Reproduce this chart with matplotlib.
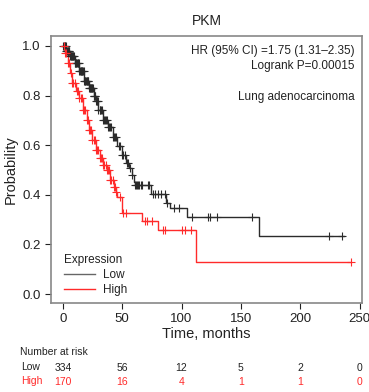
import numpy as np
import matplotlib
matplotlib.use("Agg")
import matplotlib.pyplot as plt

plt.rcParams["font.family"] = ["Liberation Sans", "DejaVu Sans"]

# survival curve knots (time in months, probability)
low_t = [0, 3, 6, 10, 14, 18, 22, 26, 28, 30, 34, 38, 42, 46, 50, 53, 56, 58, 60, 61, 74, 87, 90, 105, 165, 237]
low_p = [1.0, 0.98, 0.96, 0.93, 0.90, 0.86, 0.83, 0.80, 0.78, 0.74, 0.70, 0.675, 0.635, 0.595, 0.56, 0.53,
         0.51, 0.48, 0.45, 0.44, 0.403, 0.367, 0.347, 0.31, 0.234, 0.234]
high_t = [0, 2, 4, 6, 8, 11, 14, 17, 20, 22, 25, 28, 31, 34, 37, 40, 43, 45, 46, 50, 67, 80, 112.5, 243]
high_p = [1.0, 0.97, 0.93, 0.89, 0.85, 0.82, 0.79, 0.74, 0.70, 0.66, 0.62, 0.58, 0.55, 0.52, 0.50, 0.46,
          0.43, 0.41, 0.39, 0.327, 0.294, 0.258, 0.129, 0.129]

# censored observations
low_cens = [0.5, 1, 1.5, 2, 2.5, 3, 3.5, 4, 4.5, 5, 5.5, 6, 6.5, 7, 7.5, 8, 8.5, 9, 9.5, 10, 10.5, 11, 11.5,
            12, 12.5, 13, 13.5, 14, 14.5, 15, 15.5, 16, 16.5, 17, 17.5, 18, 18.5, 19, 19.5, 20, 20.5, 21, 21.5,
            22, 22.5, 23, 23.5, 24, 24.5, 25, 25.5, 26, 26.5, 27, 27.5, 28, 28.5, 29, 29.5, 30, 31, 31.5, 32,
            33, 34, 35, 35.5, 36, 37, 38, 39, 40, 41, 42, 43, 44, 45, 47, 48, 50, 51, 52, 54, 55, 57, 58,
            61, 62, 62.5, 63, 64, 66, 67, 72, 73, 76, 78, 80, 83, 86, 88, 94, 98, 109, 122, 124, 130, 159,
            224, 235]
high_cens = [1, 2, 3, 4, 5, 7, 8, 9, 10, 12, 13, 14, 15, 16, 17, 18, 19, 20, 21, 22, 23, 24, 25, 26, 27, 28,
             29, 30, 31, 32, 33, 34, 35, 36, 37, 38, 39, 40, 41, 42, 43, 44, 45, 48, 51, 53, 69, 71, 75, 84,
             86, 100, 103, 108, 243]

risk_times = [0, 50, 100, 150, 200, 250]
risk_low = [334, 56, 12, 5, 2, 0]
risk_high = [170, 16, 4, 1, 1, 0]

LOW_C = "#2b2b2b"
HIGH_C = "#ff2a2a"
TXT = "#222222"


def step_value(ts, ps, t):
    idx = np.searchsorted(ts, t, side="right") - 1
    return np.asarray(ps)[idx]


fig = plt.figure(figsize=(3.69, 3.92), dpi=100)
ax = fig.add_axes([0.138, 0.227, 0.843, 0.681])

ax.step(low_t, low_p, where="post", color=LOW_C, lw=1.0)
ax.step(high_t, high_p, where="post", color=HIGH_C, lw=1.0)
ax.plot(low_cens, step_value(low_t, low_p, low_cens), "+", color=LOW_C, ms=6, mew=0.8)
ax.plot(high_cens, step_value(high_t, high_p, high_cens), "+", color=HIGH_C, ms=6, mew=0.8)

ax.set_xlim(-10, 252)
ax.set_ylim(-0.036, 1.04)
ax.set_xticks(risk_times)
ax.set_yticks([0.0, 0.2, 0.4, 0.6, 0.8, 1.0])
ax.set_yticklabels(["0.0", "0.2", "0.4", "0.6", "0.8", "1.0"])
ax.tick_params(labelsize=9.5, colors=TXT, length=4, width=0.8)
for s in ax.spines.values():
    s.set_color("#888888")
    s.set_linewidth(1.2)
ax.set_xlabel("Time, months", fontsize=10.5, color=TXT, labelpad=1)
ax.set_ylabel("Probability", fontsize=10.5, color=TXT, labelpad=3)
ax.set_title("PKM", fontsize=10, color=TXT, pad=8)

ax.text(0.975, 0.965, "HR (95% CI) =1.75 (1.31\u20132.35)", transform=ax.transAxes,
        ha="right", va="top", fontsize=8.5, color=TXT)
ax.text(0.975, 0.91, "Logrank P=0.00015", transform=ax.transAxes,
        ha="right", va="top", fontsize=8.5, color=TXT)
ax.text(0.975, 0.795, "Lung adenocarcinoma", transform=ax.transAxes,
        ha="right", va="top", fontsize=8.5, color=TXT)

h1, = ax.plot([], [], color="#666666", lw=1.0, label="Low")
h2, = ax.plot([], [], color=HIGH_C, lw=1.0, label="High")
leg = ax.legend(handles=[h1, h2], title="Expression", loc="lower left", frameon=False,
                fontsize=8.5, title_fontsize=8.5, handlelength=2.6, handletextpad=0.7,
                borderaxespad=0.2, labelspacing=0.25, bbox_to_anchor=(0.02, 0.0))
leg._legend_box.align = "left"
leg.get_title().set_color(TXT)
for t in leg.get_texts():
    t.set_color(TXT)

# number at risk table
fig.text(20 / 369, 1 - 352 / 392, "Number at risk", fontsize=7.5, color=TXT, va="center")
fig.text(21 / 369, 1 - 367 / 392, "Low", fontsize=7.5, color=TXT, va="center")
fig.text(21 / 369, 1 - 381 / 392, "High", fontsize=7.5, color=HIGH_C, va="center")
for t, lo, hi in zip(risk_times, risk_low, risk_high):
    xf = fig.transFigure.inverted().transform(ax.transData.transform((t, 0)))[0]
    fig.text(xf, 1 - 368 / 392, str(lo), fontsize=7.5, color=TXT, ha="center", va="center")
    fig.text(xf, 1 - 382 / 392, str(hi), fontsize=7.5, color=HIGH_C, ha="center", va="center")

fig.savefig("out.png", dpi=100)
